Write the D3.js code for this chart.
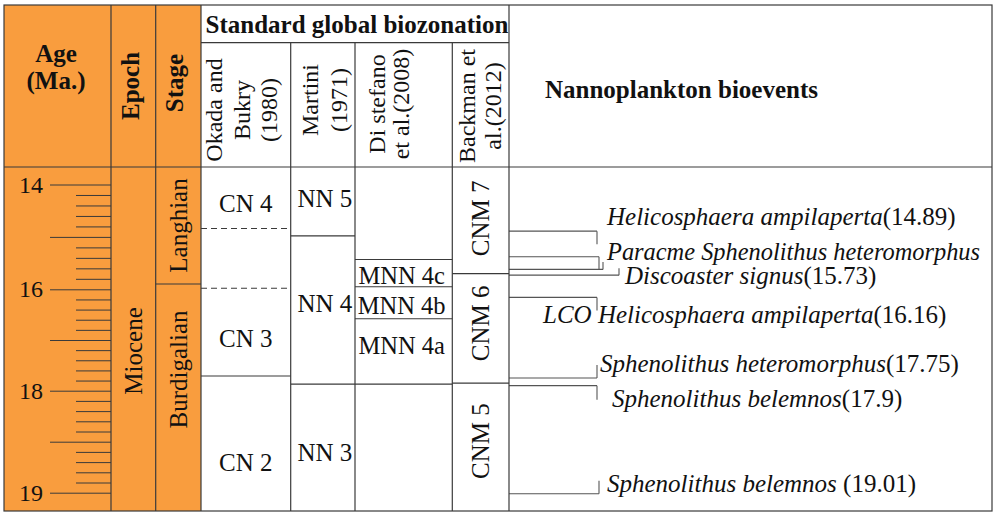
<!DOCTYPE html>
<html>
<head>
<meta charset="utf-8">
<script src="https://cdn.jsdelivr.net/npm/d3@7"></script>
<style>
  body { margin: 0; background: #fff; }
  svg { display: block; }
  text { font-family: "Liberation Serif", "Times New Roman", serif; fill: #111; white-space: pre; }
</style>
</head>
<body>
<svg width="996" height="519"></svg>
<script>
// ages (Ma)
const ageTickLabels = [14, 16, 18, 19];
const ageMajorTicks = [14, 15, 16, 17, 18, 18.5, 19];

const epochNames = ['Miocene'];
const stageNames = ['Langhian', 'Burdigalian'];
const stageBounds = [15.9];

const okadaZones = ['CN 4', '', 'CN 3', 'CN 2'];
const okadaBounds = [14.84, 15.98, 17.71];
const martiniZones = ['NN 5', 'NN 4', 'NN 3'];
const martiniBounds = [14.98, 17.87];
const distefanoZones = ['', 'MNN 4c', 'MNN 4b', 'MNN 4a', ''];
const distefanoBounds = [15.43, 15.95, 16.58, 17.87];
const backmanZones = ['CNM 7', 'CNM 6', 'CNM 5'];
const backmanBounds = [15.7, 17.85];

const eventNames = ['Helicosphaera ampilaperta', 'Paracme Sphenolithus heteromorphus', 'Discoaster signus',
  'LCO Helicosphaera ampilaperta', 'Sphenolithus heteromorphus', 'Sphenolithus belemnos', 'Sphenolithus belemnos '];
const eventAges = [14.89, 15.38, 15.73, 16.16, 17.75, 17.9, 19.01];
const eventBaseAges = [null, 15.62, null, null, null, null, null];
const eventAgeLabels = ['(14.89)', '', '(15.73)', '(16.16)', '(17.75)', '(17.9)', '(19.01)'];

// ---- layout ----
const L = 4, R = 992, T = 5, subT = 42.7, bodyT = 167, B = 511;
const col = {
  age: [4, 111], epoch: [111, 155.7], stage: [155.7, 201],
  okada: [201, 290.7], martini: [290.7, 355], distefano: [355, 452.3], backman: [452.3, 509], events: [509, 992]
};
const orange = '#F99D3E';
const ink = '#3a3a3a';
const fs = 25;

const svg = d3.select('svg');

// non-linear age scale, as drawn in the figure
const y = d3.scaleLinear()
  .domain(ageTickLabels)
  .range([184.5, 289.3, 390.7, 492.7]);

// orange left block
svg.append('rect')
  .attr('x', L).attr('y', T)
  .attr('width', col.stage[1] - L).attr('height', B - T)
  .attr('fill', orange);

// age axis: minor + major ticks
const minorTicks = d3.range(0, 20).map(i => 14 + i * 0.2).concat(d3.range(0, 10).map(i => 18 + i * 0.1));
const ageAxisG = svg.append('g').attr('transform', `translate(${col.age[1]},0)`);
ageAxisG.append('g')
  .call(d3.axisLeft(y).tickValues(minorTicks.filter(d => !ageMajorTicks.some(m => Math.abs(m - d) < 1e-6)))
    .tickSize(35).tickFormat(''));
ageAxisG.append('g')
  .call(d3.axisLeft(y).tickValues(ageMajorTicks).tickSize(61).tickPadding(7)
    .tickFormat(d => ageTickLabels.includes(d) ? d : ''));
ageAxisG.selectAll('.domain').remove();
ageAxisG.selectAll('line').attr('stroke', ink).attr('stroke-width', 1);
ageAxisG.selectAll('text')
  .attr('font-size', 24).attr('fill', '#111')
  .style('font-family', '"Liberation Serif", serif');

// ---- zone columns ----
function zoneSpans(names, bounds) {
  return names.map((n, i) => ({
    name: n,
    y0: i === 0 ? bodyT : y(bounds[i - 1]),
    y1: i === names.length - 1 ? B : y(bounds[i])
  }));
}

function drawColumn(c, names, bounds, opts = {}) {
  const [x0, x1] = c;
  const g = svg.append('g');
  g.selectAll('line.b')
    .data(bounds)
    .join('line')
    .attr('x1', x0).attr('x2', x1)
    .attr('y1', d => y(d)).attr('y2', d => y(d))
    .attr('stroke', ink).attr('stroke-width', 1.1)
    .attr('stroke-dasharray', (d, i) => (opts.dashed || []).includes(i) ? '6,4' : null);
  const spans = zoneSpans(names, bounds);
  const shift = opts.shift || {};
  g.selectAll('text')
    .data(spans.filter(s => s.name))
    .join('text')
    .attr('text-anchor', 'middle')
    .attr('font-size', opts.size || fs)
    .attr('dy', '0.35em')
    .attr('transform', d => {
      const cx = (x0 + x1) / 2 + (opts.dx || 0);
      const cy = (d.y0 + d.y1) / 2 + (shift[d.name] || 0);
      return opts.rotate ? `translate(${cx},${cy}) rotate(-90)` : `translate(${cx},${cy})`;
    })
    .text(d => d.name);
}

drawColumn(col.epoch, epochNames, [], { rotate: true, shift: { 'Miocene': 12 } });
drawColumn(col.stage, stageNames, stageBounds, { rotate: true, shift: { 'Burdigalian': -28 } });
drawColumn(col.okada, okadaZones, okadaBounds, { dashed: [0, 1], shift: { 'CN 4': 5, 'CN 3': 6, 'CN 2': 19 } });
drawColumn(col.martini, martiniZones, martiniBounds, { dx: 2, shift: { 'NN 5': -3, 'NN 4': -7, 'NN 3': 5 } });
drawColumn(col.distefano, distefanoZones, distefanoBounds, { dx: -2, size: 24.5, shift: { 'MNN 4c': 2, 'MNN 4b': 3, 'MNN 4a': -6 } });
drawColumn(col.backman, backmanZones, backmanBounds, { rotate: true, shift: { 'CNM 7': -2, 'CNM 6': -5, 'CNM 5': -6 } });

// ---- bioevents ----
const eventLayout = [
  { end: 597, tick: 13, tx: 607, dy: -6 },
  { end: 599, tick: 0, tx: 607, dy: 3, size: 24.4 },
  { end: 619, tick: -7, tx: 625, dy: 9 },
  { end: 597, tick: 13, tx: 543, dy: 26 },
  { end: 597, tick: -13, tx: 600, dy: -6 },
  { end: 597, tick: 14, tx: 612, dy: 21 },
  { end: 599, tick: -13, tx: 607, dy: -2 }
];
const events = eventNames.map((n, i) => ({
  name: n, age: eventAges[i], base: eventBaseAges[i], label: eventAgeLabels[i], lay: eventLayout[i]
}));

const evG = svg.append('g').attr('stroke', '#555').attr('stroke-width', 1.1).attr('fill', 'none');
events.forEach(e => {
  const yy = y(e.age);
  evG.append('line').attr('x1', col.events[0]).attr('x2', e.lay.end).attr('y1', yy).attr('y2', yy);
  if (e.base != null) {
    const yb = y(e.base);
    evG.append('line').attr('x1', col.events[0]).attr('x2', e.lay.end + 4).attr('y1', yb).attr('y2', yb);
    evG.append('line').attr('x1', e.lay.end).attr('x2', e.lay.end).attr('y1', yy).attr('y2', yb);
    evG.append('line').attr('x1', e.lay.end + 4).attr('x2', e.lay.end + 4).attr('y1', yb - 7.5).attr('y2', yb);
  } else {
    evG.append('line').attr('x1', e.lay.end).attr('x2', e.lay.end).attr('y1', yy).attr('y2', yy + e.lay.tick);
  }
});

const evText = svg.append('g').selectAll('text')
  .data(events)
  .join('text')
  .attr('x', d => d.lay.tx)
  .attr('y', d => y(d.age) + d.lay.dy)
  .attr('font-size', d => d.lay.size || fs);
evText.append('tspan').attr('font-style', 'italic').text(d => d.name);
evText.append('tspan').text(d => d.label);

// ---- grid / frame ----
const frame = svg.append('g').attr('stroke', ink).attr('stroke-width', 1.2);
frame.append('rect').attr('x', L).attr('y', T).attr('width', R - L).attr('height', B - T).attr('fill', 'none');
frame.append('line').attr('x1', L).attr('x2', R).attr('y1', bodyT).attr('y2', bodyT);
frame.append('line').attr('x1', col.okada[0]).attr('x2', col.backman[1]).attr('y1', subT).attr('y2', subT);
[col.age[1], col.epoch[1], col.stage[1], col.backman[1]].forEach(x =>
  frame.append('line').attr('x1', x).attr('x2', x).attr('y1', T).attr('y2', B));
[col.okada[1], col.martini[1], col.distefano[1]].forEach(x =>
  frame.append('line').attr('x1', x).attr('x2', x).attr('y1', subT).attr('y2', B));

// ---- headers ----
const head = svg.append('g').attr('font-size', fs);
head.append('text').attr('x', 56).attr('y', 62).attr('text-anchor', 'middle').attr('font-weight', 'bold').text('Age');
head.append('text').attr('x', 56).attr('y', 89).attr('text-anchor', 'middle').attr('font-weight', 'bold').text('(Ma.)');
head.append('text').attr('transform', 'translate(139,86) rotate(-90)').attr('text-anchor', 'middle')
  .attr('font-weight', 'bold').text('Epoch');
head.append('text').attr('transform', 'translate(183,83) rotate(-90)').attr('text-anchor', 'middle')
  .attr('font-weight', 'bold').text('Stage');
head.append('text').attr('x', 357).attr('y', 33).attr('text-anchor', 'middle').attr('font-weight', 'bold')
  .text('Standard global biozonation');
head.append('text').attr('x', 545).attr('y', 98).attr('font-weight', 'bold').text('Nannoplankton bioevents');

const subHeads = [
  { lines: ['Okada and', 'Bukry', '(1980)'], xs: [222, 250, 277], cy: 110 },
  { lines: ['Martini', '(1971)'], xs: [318, 347], cy: 100 },
  { lines: ['Di stefano', 'et al.(2008)'], xs: [385, 409], cy: 104 },
  { lines: ['Backman et', 'al.(2012)'], xs: [475, 501], cy: 106 }
];
subHeads.forEach(s => s.lines.forEach((t, i) =>
  head.append('text').attr('transform', `translate(${s.xs[i]},${s.cy}) rotate(-90)`)
    .attr('font-size', 24).attr('text-anchor', 'middle').text(t)));
</script>
</body>
</html>
